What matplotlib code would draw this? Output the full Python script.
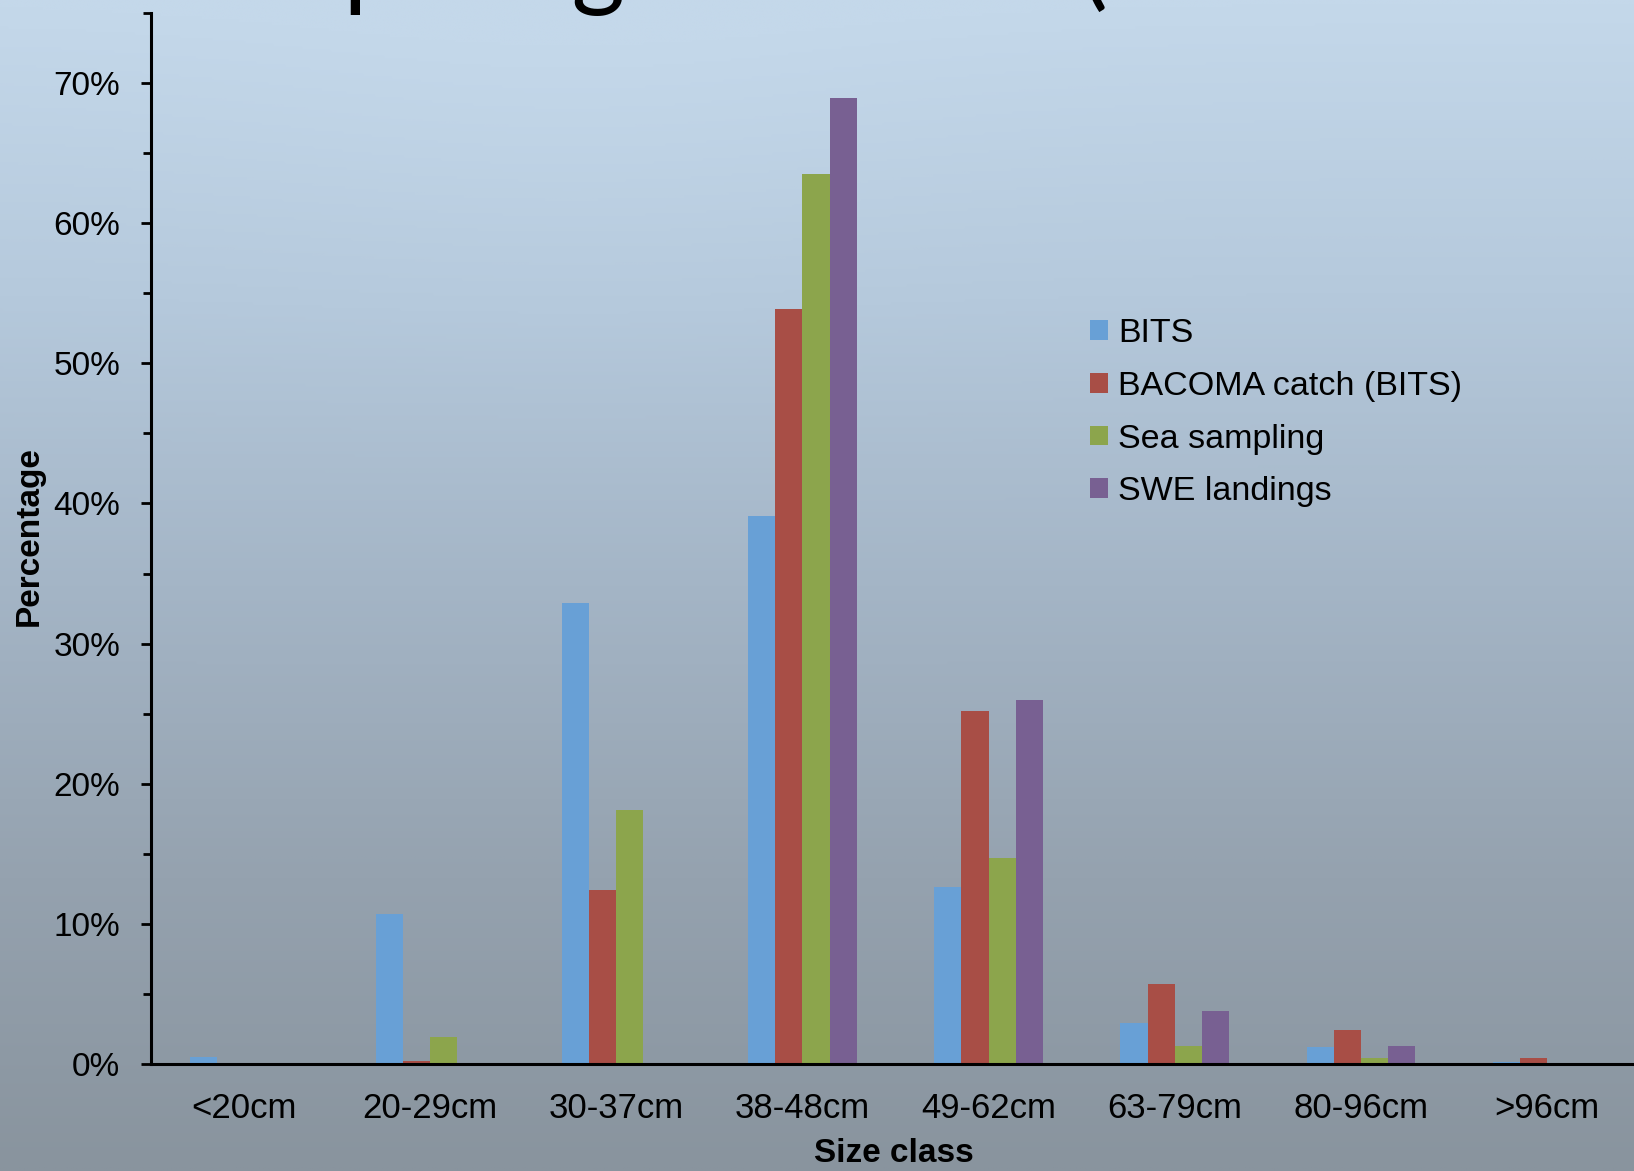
import numpy as np
import matplotlib
matplotlib.use("Agg")
import matplotlib.pyplot as plt
from matplotlib.colors import LinearSegmentedColormap
from matplotlib.ticker import FuncFormatter, MultipleLocator

# size classes and percentage of fish per class for each source
size_classes = ["<20cm", "20-29cm", "30-37cm", "38-48cm",
                "49-62cm", "63-79cm", "80-96cm", ">96cm"]
bits = [0.5, 10.7, 32.9, 39.1, 12.6, 2.9, 1.2, 0.15]
bacoma = [0.0, 0.2, 12.4, 53.9, 25.2, 5.7, 2.4, 0.4]
sea_sampling = [0.1, 1.9, 18.1, 63.5, 14.7, 1.3, 0.4, 0.05]
swe_landings = [0.0, 0.0, 0.0, 68.9, 26.0, 3.8, 1.3, 0.05]

series_names = ["BITS", "BACOMA catch (BITS)", "Sea sampling", "SWE landings"]
series_colors = ["#68a0d6", "#a84e46", "#8ca54c", "#786092"]

plt.rcParams['font.family'] = ['Liberation Sans', 'DejaVu Sans']

fig = plt.figure(figsize=(16.34, 11.71), dpi=100)

# slide background: light sky blue fading to grey
bg = fig.add_axes([0, 0, 1, 1], zorder=-10)
bg_cmap = LinearSegmentedColormap.from_list(
    "slide", [(0.0, "#c4d8ea"), (0.25, "#b5c9dc"), (0.5, "#a4b5c6"),
              (0.75, "#95a2af"), (1.0, "#89949e")])
yy = np.linspace(0, 1, 400)[:, None]
xx = np.linspace(0, 1, 400)[None, :]
shade = yy - 0.04 * np.exp(-((xx - 0.35) ** 2) / 0.05 - (yy - 0.1) ** 2 / 0.03)
bg.imshow(shade, cmap=bg_cmap, aspect="auto", extent=[0, 1, 0, 1],
          origin="upper", vmin=0, vmax=1)
bg.axis("off")

# slide title, mostly above the visible area
fig.text(0.081, 1 + 3 / 1171, "Comparing data sets (cod 2010–2012)",
         fontsize=74, family=['Lato', 'DejaVu Sans'], ha="left", va="baseline",
         color="black")

ax = fig.add_axes([151 / 1634, 107 / 1171, 1489 / 1634, 1051 / 1171])
ax.set_facecolor("none")

x = np.arange(len(size_classes))
width = 0.1456
all_series = [bits, bacoma, sea_sampling, swe_landings]
for i, (vals, name, col) in enumerate(zip(all_series, series_names, series_colors)):
    ax.bar(x + (i - 1.5) * width, vals, width, color=col, label=name,
           linewidth=0)

ax.set_xlim(-0.5, 7.5)
ax.set_ylim(0, 75)

ax.yaxis.set_major_locator(MultipleLocator(10))
ax.yaxis.set_minor_locator(MultipleLocator(5))
ax.yaxis.set_major_formatter(FuncFormatter(lambda v, p: f"{v:.0f}%" if v <= 70 else ""))
ax.tick_params(axis="y", which="major", length=7, width=2, direction="out",
               labelsize=24, pad=15)
ax.tick_params(axis="y", which="minor", length=6, width=2, direction="out")
ax.yaxis.set_minor_formatter(FuncFormatter(lambda v, p: ""))

ax.set_xticks(x)
ax.set_xticklabels(size_classes)
ax.tick_params(axis="x", length=0, labelsize=25, pad=20)

for side in ["top", "right"]:
    ax.spines[side].set_visible(False)
ax.spines["left"].set_linewidth(2.2)
ax.spines["bottom"].set_linewidth(2.2)

fig.text(29 / 1634, 1 - 536 / 1171, "Percentage", rotation=90, fontsize=24,
         fontweight="bold", ha="center", va="center")
fig.text(894 / 1634, 1 - 1154 / 1171, "Size class", fontsize=24,
         fontweight="bold", ha="center", va="center")

ax.legend(loc="upper left", bbox_to_anchor=(1090 / 1634, 1 - 318 / 1171),
          bbox_transform=fig.transFigure, frameon=False, fontsize=24.5,
          handlelength=0.52, handleheight=0.52, handletextpad=0.3,
          labelspacing=0.64, borderpad=0, borderaxespad=0)

fig.savefig("out.png", dpi=100)
